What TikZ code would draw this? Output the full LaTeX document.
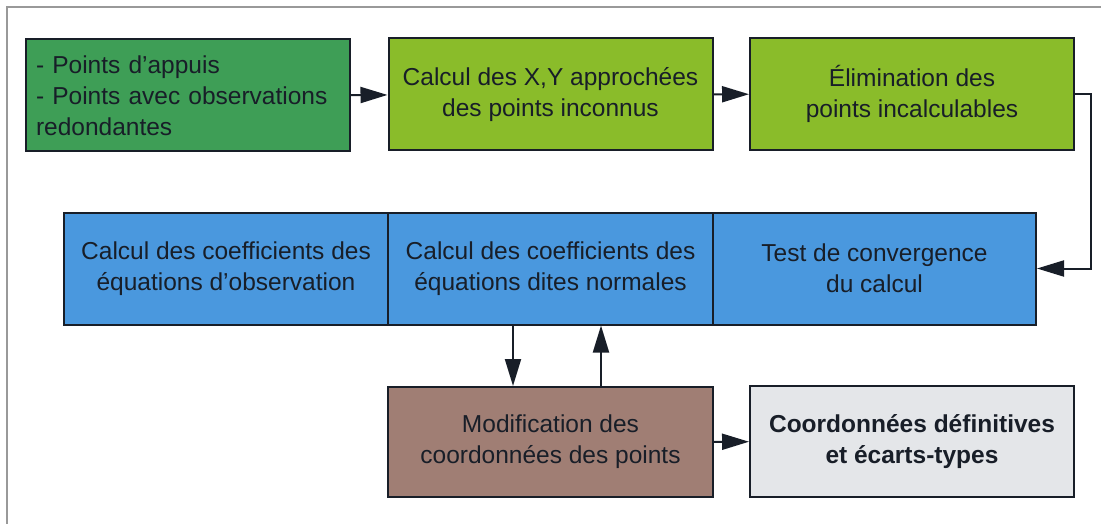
\documentclass[tikz,border=0pt]{standalone}
\usepackage{fontspec}
\setmainfont{Liberation Sans}
\usetikzlibrary{arrows.meta}

\definecolor{vertfonce}{RGB}{62,158,86}
\definecolor{vertclair}{RGB}{138,188,42}
\definecolor{bleu}{RGB}{74,152,222}
\definecolor{brun}{RGB}{160,126,116}
\definecolor{grisclair}{RGB}{228,230,233}
\definecolor{encre}{RGB}{24,30,40}

\tikzset{every picture/.style={line width=0.75pt}}
\tikzset{
  etape/.style={draw=encre, line width=2pt, minimum width=324pt, minimum height=112pt,
    align=center, text=encre, font=\fontsize{24.5}{31}\selectfont, inner sep=0pt},
  fleche/.style={draw=encre, line width=2pt, -{Triangle[length=27pt,width=16pt]}}
}

\begin{document}
\begin{tikzpicture}[x=1pt,y=1pt,yscale=-1,xscale=1]
\useasboundingbox (0,0) rectangle (1101,524);

% Frame
\draw [color=gray!80, line width=1.5pt] (7,524) -- (7,7) -- (1101,7);

% Row 1
\node [etape, fill=vertfonce, align=left, text width=304pt] (appuis) at (188,95.5)
  {- Points d'appuis\\- Points avec observations\\redondantes};
\node [etape, fill=vertclair] (approche) at (550.5,94.5)
  {Calcul des X,Y approchées\\des points inconnus};
\node [etape, fill=vertclair] (elimine) at (912,94)
  {Élimination des\\points incalculables};

% Row 2
\node [etape, fill=bleu, minimum width=324.5pt] (observ) at (226,268.5)
  {Calcul des coefficients des\\équations d'observation};
\node [etape, fill=bleu, minimum width=325pt] (normale) at (550.5,268.5)
  {Calcul des coefficients des\\équations dites normales};
\node [etape, fill=bleu, minimum width=323pt] (converge) at (874.5,268.5)
  {Test de convergence\\du calcul};

% Row 3
\node [etape, fill=brun, minimum width=325pt, minimum height=110pt] (modif) at (550.5,442)
  {Modification des\\coordonnées des points};
\node [etape, fill=grisclair, minimum height=111pt, font=\bfseries\fontsize{24.5}{31}\selectfont] (final) at (912,441.5)
  {Coordonnées définitives\\et écarts-types};

% Connectors
\draw [fleche] (appuis) -- (approche);
\draw [fleche] (approche) -- (elimine);
\draw [fleche] (elimine.east) -- ++(16,0) |- (converge.east);
\draw [fleche] ([xshift=-37.5pt]normale.south) -- ([xshift=-37.5pt]modif.north);
\draw [fleche] ([xshift=50.5pt]modif.north) -- ([xshift=50.5pt]normale.south);
\draw [fleche] (modif) -- (final);
\end{tikzpicture}
\end{document}
